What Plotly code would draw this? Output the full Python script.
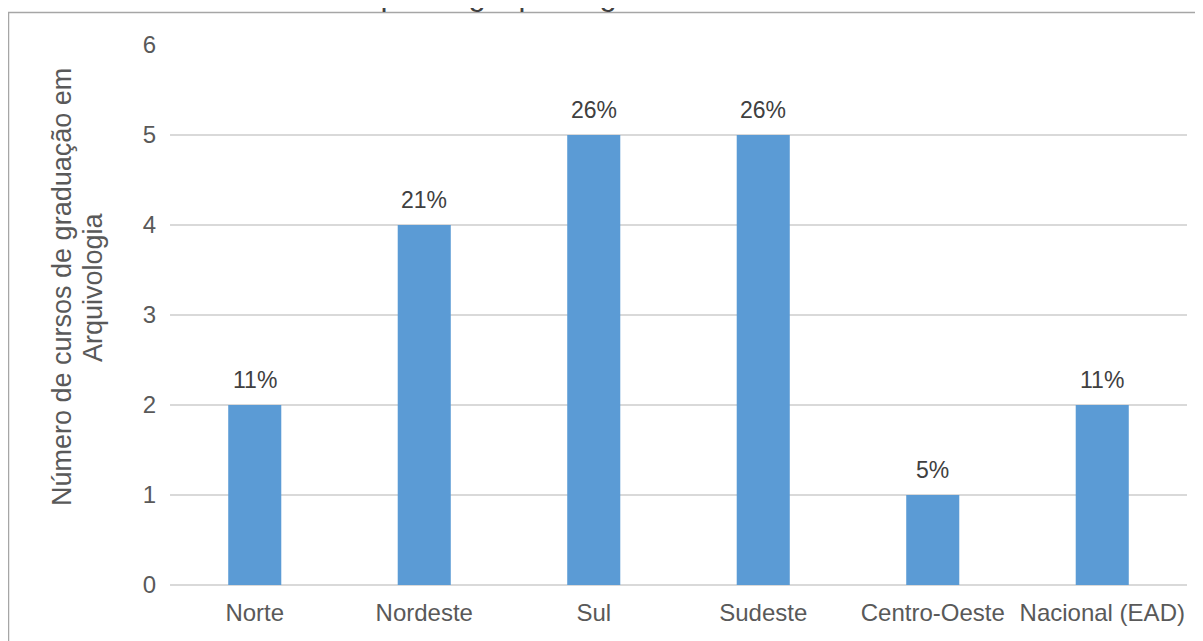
import plotly.graph_objects as go

regions = ["Norte", "Nordeste", "Sul", "Sudeste", "Centro-Oeste", "Nacional (EAD)"]
courses = [2, 4, 5, 5, 1, 2]
shares = ["11%", "21%", "26%", "26%", "5%", "11%"]
y_ticks = [0, 1, 2, 3, 4, 5, 6]

W, H = 1203, 641
OFF = 8  # page body margin
ML, MT = 162, 37
PW, PH = 1017, 540
MR, MB = W - ML - PW, H - MT - PH


def xp(px):
    # page pixel -> paper fraction
    return (px - OFF - ML) / PW


def yp(py):
    return (MT + PH - (py - OFF)) / PH


FONT = "Liberation Sans, Arial"

fig = go.Figure()
fig.add_trace(go.Bar(
    x=regions, y=courses,
    marker=dict(color="#5B9BD5", line=dict(width=0)),
    hoverinfo="skip",
))

for r, v, s in zip(regions, courses, shares):
    fig.add_annotation(x=r, y=v, xref="x", yref="y", text=s, showarrow=False,
                       yanchor="bottom", yshift=10,
                       font=dict(family=FONT, size=23, color="#404040"))

# axis title (two lines)
fig.add_annotation(x=xp(62), y=yp(287), xref="paper", yref="paper",
                   text="Número de cursos de graduação em", textangle=-90,
                   showarrow=False, xanchor="center", yanchor="middle",
                   font=dict(family=FONT, size=27, color="#595959"))
fig.add_annotation(x=xp(93), y=yp(287), xref="paper", yref="paper",
                   text="Arquivologia", textangle=-90,
                   showarrow=False, xanchor="center", yanchor="middle",
                   font=dict(family=FONT, size=27, color="#595959"))

# chart title, cut off by the top edge
fig.add_annotation(x=xp(189), y=yp(14), xref="paper", yref="paper",
                   text="Cursos de Arquivologia por região", showarrow=False,
                   xanchor="left", yanchor="bottom",
                   font=dict(family=FONT, size=31, color="#404040"))

# chart frame
fig.add_shape(type="rect", xref="paper", yref="paper",
              x0=xp(8.5), x1=xp(1240), y0=yp(690), y1=yp(12.5),
              line=dict(color="#A6A6A6", width=1.5), layer="above")

fig.update_layout(
    width=W, height=H,
    margin=dict(l=ML, r=MR, t=MT, b=MB, pad=0),
    paper_bgcolor="white", plot_bgcolor="white",
    bargap=0.687, showlegend=False,
    font=dict(family=FONT, size=24, color="#595959"),
)
fig.update_xaxes(showgrid=False, showline=False, ticks="", ticklabelstandoff=11,
                 tickfont=dict(size=24, color="#595959"))
fig.update_yaxes(range=[0, 6], tickvals=y_ticks, showgrid=True, gridcolor="#D9D9D9",
                 gridwidth=1.5, zeroline=True, zerolinecolor="#D9D9D9", zerolinewidth=1.5,
                 showline=False, ticks="", ticklabelstandoff=13,
                 tickfont=dict(size=24, color="#595959"))

fig.write_html("out.html")
